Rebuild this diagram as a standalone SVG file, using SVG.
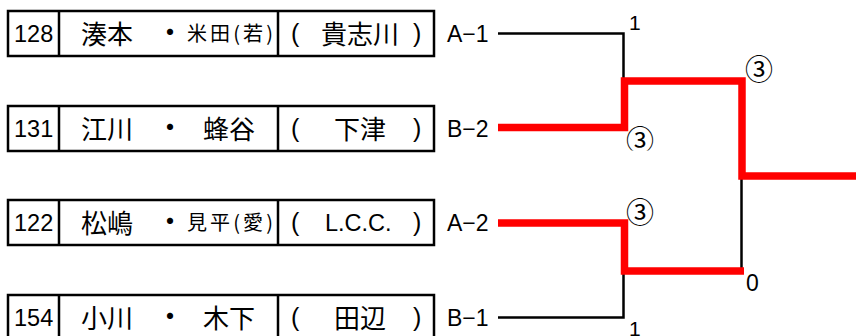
<svg xmlns="http://www.w3.org/2000/svg" width="856" height="336" viewBox="0 0 856 336">
<defs>
<style>
.box{fill:#fff;stroke:#000;stroke-width:2.5}
.div{stroke:#000;stroke-width:2.5}
.num{font-family:"Liberation Sans",Arial,sans-serif;font-size:23.5px;fill:#000}
.jp{font-family:"Noto Sans CJK JP","Noto Sans CJK SC",sans-serif;font-size:26px;fill:#000}
.dot{font-family:"Noto Sans CJK JP","Noto Sans CJK SC",sans-serif;font-size:29px;fill:#000}
.jps{font-family:"Noto Sans CJK JP","Noto Sans CJK SC",sans-serif;font-size:20px;fill:#000}
.par{font-family:"Liberation Sans",Arial,sans-serif;font-size:25px;fill:#000}
.lab{font-family:"Liberation Sans",Arial,sans-serif;font-size:23px;fill:#000}
.sc{font-family:"Liberation Sans",Arial,sans-serif;font-size:21px;fill:#000}
.circ{font-family:"Noto Sans CJK JP","Noto Sans CJK SC",sans-serif;font-size:28px;fill:#000}
.blk{fill:none;stroke:#000;stroke-width:2.5}
.red{fill:none;stroke:#f00;stroke-width:7.5;stroke-linejoin:miter}
</style>
<clipPath id="clipLow"><rect x="600" y="100" width="100" height="50.5"/></clipPath>
</defs>

<g id="connectors">
<path class="blk" d="M498,33.5 H623.5 V80"/>
<path class="blk" d="M741.5,176 V268"/>
<path class="blk" d="M623.5,274 V317.5 H498"/>
<path class="red" d="M498,127.5 H624.5 V81 H742 V176 H856"/>
<path class="red" d="M498,223 H624.5 V271 H744"/>
</g>

<g id="p128">
<rect class="box" x="8" y="11" width="426" height="45"/>
<line class="div" x1="59" y1="11" x2="59" y2="56"/>
<line class="div" x1="278" y1="11" x2="278" y2="56"/>
<text class="num" x="14" y="41.5">128</text>
<text class="jp" x="81" y="44">湊本</text>
<text class="dot" x="170" y="43" text-anchor="middle">・</text>
<text class="jps" x="187" y="41" textLength="86" lengthAdjust="spacing">米田(若)</text>
<text class="par" x="291" y="42">(</text>
<text class="jp" x="321" y="44">貴志川</text>
<text class="par" x="413" y="42">)</text>
<text class="lab" x="447" y="42">A−1</text>
</g>

<g id="p131">
<rect class="box" x="8" y="106" width="426" height="45"/>
<line class="div" x1="59" y1="106" x2="59" y2="151"/>
<line class="div" x1="278" y1="106" x2="278" y2="151"/>
<text class="num" x="14" y="136.5">131</text>
<text class="jp" x="81" y="139">江川</text>
<text class="dot" x="170" y="138" text-anchor="middle">・</text>
<text class="jp" x="203" y="139">蜂谷</text>
<text class="par" x="291" y="137">(</text>
<text class="jp" x="334" y="139">下津</text>
<text class="par" x="413" y="137">)</text>
<text class="lab" x="447" y="137">B−2</text>
</g>

<g id="p122">
<rect class="box" x="8" y="200" width="426" height="45"/>
<line class="div" x1="59" y1="200" x2="59" y2="245"/>
<line class="div" x1="278" y1="200" x2="278" y2="245"/>
<text class="num" x="14" y="230.5">122</text>
<text class="jp" x="81" y="233">松嶋</text>
<text class="dot" x="170" y="232" text-anchor="middle">・</text>
<text class="jps" x="187" y="230" textLength="86" lengthAdjust="spacing">見平(愛)</text>
<text class="par" x="291" y="231">(</text>
<text class="num" x="325" y="231">L.C.C.</text>
<text class="par" x="413" y="231">)</text>
<text class="lab" x="447" y="231">A−2</text>
</g>

<g id="p154">
<rect class="box" x="8" y="295" width="426" height="45"/>
<line class="div" x1="59" y1="295" x2="59" y2="340"/>
<line class="div" x1="278" y1="295" x2="278" y2="340"/>
<text class="num" x="14" y="325.5">154</text>
<text class="jp" x="81" y="328">小川</text>
<text class="dot" x="170" y="327" text-anchor="middle">・</text>
<text class="jp" x="203" y="328">木下</text>
<text class="par" x="291" y="326">(</text>
<text class="jp" x="334" y="328">田辺</text>
<text class="par" x="413" y="326">)</text>
<text class="lab" x="447" y="326">B−1</text>
</g>

<g id="scores">
<text class="sc" x="629" y="30">1</text>
<text class="circ" x="745" y="80">③</text>
<g clip-path="url(#clipLow)"><text class="circ" x="626" y="151">③</text></g>
<text class="circ" x="626" y="223">③</text>
<text class="lab" x="746" y="291">0</text>
<text class="sc" x="629" y="336">1</text>
</g>
</svg>
